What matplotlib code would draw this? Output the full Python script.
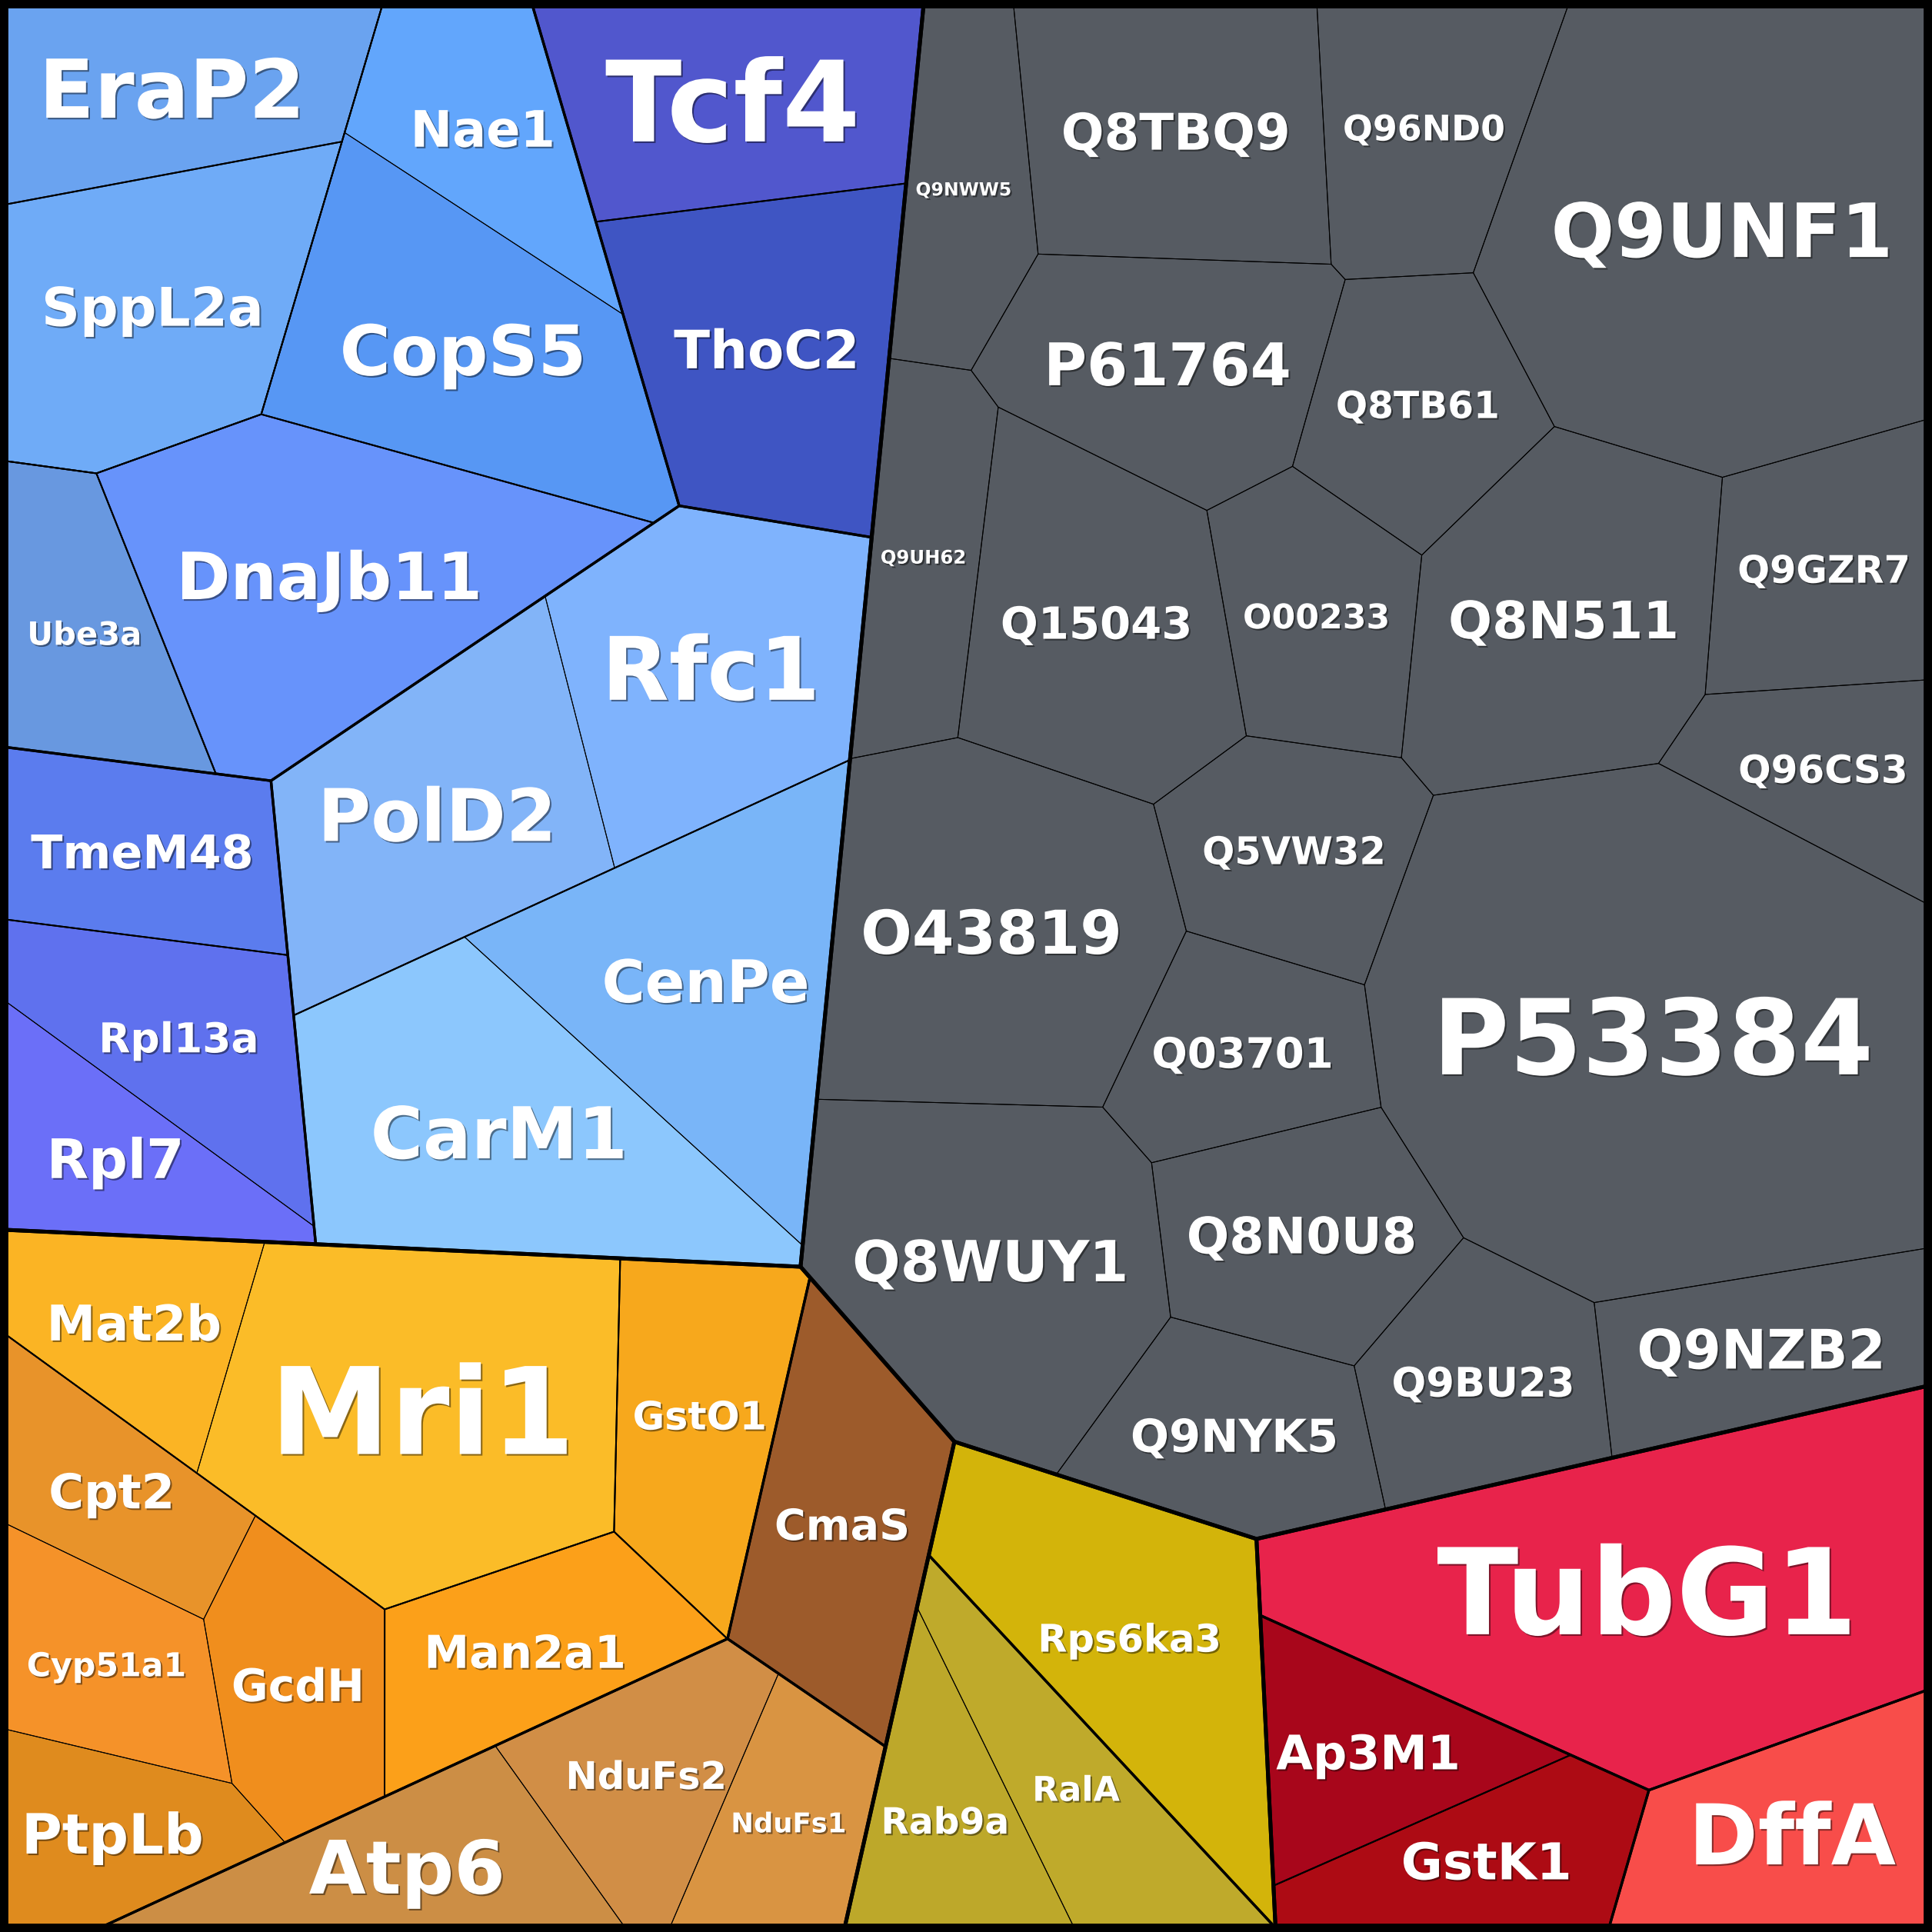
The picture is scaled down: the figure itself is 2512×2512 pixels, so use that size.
import numpy as np
import matplotlib
matplotlib.use("Agg")
from matplotlib import pyplot as plt
from matplotlib.patches import Polygon
import matplotlib.patheffects as pe

# proteins, their group lineage and their value (cell area)
proteins = ["EraP2", "SppL2a", "Nae1", "CopS5", "Ube3a", "DnaJb11", "Tcf4", "ThoC2",
            "Rfc1", "PolD2", "CenPe", "CarM1", "TmeM48", "Rpl13a", "Rpl7",
            "Q9NWW5", "Q8TBQ9", "Q96ND0", "Q9UNF1", "P61764", "Q8TB61", "Q9UH62",
            "Q15043", "O00233", "Q8N511", "Q9GZR7", "Q96CS3", "Q5VW32", "O43819",
            "P53384", "Q03701", "Q8WUY1", "Q8N0U8", "Q9NYK5", "Q9BU23", "Q9NZB2",
            "Mat2b", "Mri1", "GstO1", "Man2a1", "Cpt2", "Cyp51a1", "GcdH", "PtpLb",
            "Atp6", "NduFs2", "NduFs1", "CmaS",
            "Rps6ka3", "RalA", "Rab9a",
            "TubG1", "Ap3M1", "GstK1", "DffA"]

lineage = (["Blue/A1/ES", "Blue/A1/ES", "Blue/A1/NC", "Blue/A1/NC", "Blue/A1/Ube3a",
            "Blue/A1/DnaJb11", "Blue/A2/Tcf4", "Blue/A2/ThoC2", "Blue/B/RP", "Blue/B/RP",
            "Blue/B/CC", "Blue/B/CC", "Blue/C/TmeM48", "Blue/C/RR", "Blue/C/RR"]
           + ["Gray/G/G"] * 21
           + ["Orange/O1/M", "Orange/O1/M", "Orange/O1/GstO1", "Orange/O1/Man2a1",
              "Orange/O1/Or", "Orange/O1/Or", "Orange/O1/Or", "Orange/O1/Or",
              "Orange/Brown/Brown", "Orange/Brown/Brown", "Orange/Brown/Brown", "Orange/CmaS/CmaS",
              "Yellow/Rps6ka3/Rps6ka3", "Yellow/RR2/RR2", "Yellow/RR2/RR2",
              "Red/TubG1/TubG1", "Red/AG/Ap3M1", "Red/AG/GstK1", "Red/DffA/DffA"])

values = [391, 526, 292, 585, 284, 722, 459, 528, 541, 546, 588, 661, 311, 332, 251,
          269, 498, 349, 1191, 441, 314, 273, 519, 302, 592, 333, 246, 318, 722,
          1604, 281, 676, 362, 312, 317, 316,
          266, 801, 341, 321, 240, 252, 280, 244, 312, 282, 219, 399,
          541, 285, 241,
          1125, 270, 270, 360]

# styling
colors = ["#6aa3f0", "#6fabf7", "#62a6fc", "#5797f4", "#6898e0", "#6793fb", "#5157cd", "#3f55c3",
          "#7fb3fd", "#82b4f8", "#79b5f8", "#8cc7fd", "#5b7cee", "#5f71ee", "#6b6ff8"] \
         + ["#565b62"] * 21 \
         + ["#fbb424", "#fbbc28", "#f7a81c", "#fca019", "#e8932a", "#f59229", "#f08e1d", "#df8b1e",
            "#cc8e45", "#d18e46", "#d99442", "#9d5b2b",
            "#d3b40a", "#bfaa2b", "#bda82a",
            "#e8234b", "#a8061b", "#ad0b14", "#f84d4a"]

label_pt = [76, 50, 47, 65, 30, 61, 105, 49.5, 82, 68, 55, 67, 43.5, 38.5, 51,
            17, 47.3, 33, 70, 55, 35, 17.5, 41.5, 31.8, 48.3, 35.5, 36, 35.7, 56.5, 98, 39.3,
            53, 47, 42.5, 38, 51,
            46, 113, 36.5, 42.5, 45, 30.7, 42, 52, 69, 35.6, 25.5, 40,
            35.7, 32, 34,
            112, 44.5, 47.5, 78.5]

# voronoi treemap seeds (site of each node inside its parent)
seeds = {
    "Blue": (374.2, 510.2), "Gray": (1132.0, 584.1), "Orange": (338.4, 1281.9),
    "Yellow": (868.8, 1401.7), "Red": (1313.5, 1379.9),
    "A1": (206.4, 313.1), "A2": (589.7, 200.7), "B": (499.9, 748.8), "C": (146.9, 782.9),
    "ES": (137.4, 126.6), "NC": (357.0, 191.6), "Ube3a": (76.1, 578.6), "DnaJb11": (271.5, 500.9),
    "EraP2": (116.3, 76.4), "SppL2a": (147.7, 244.6),
    "Nae1": (427.0, 127.3), "CopS5": (340.0, 260.5),
    "Tcf4": (596.1, 81.4), "ThoC2": (621.1, 283.5),
    "RP": (424.0, 620.4), "CC": (525.6, 841.6),
    "Rfc1": (584.9, 570.7), "PolD2": (347.3, 631.5),
    "CenPe": (557.7, 781.7), "CarM1": (420.1, 932.5),
    "TmeM48": (131.0, 692.8), "RR": (107.1, 881.9),
    "Rpl13a": (151.4, 846.5), "Rpl7": (87.0, 934.8),
    "Q9NWW5": (783.2, 156.0), "Q8TBQ9": (996.9, 134.9), "Q96ND0": (1155.0, 126.2),
    "Q9UNF1": (1386.7, 208.4), "P61764": (992.0, 276.3), "Q8TB61": (1165.4, 325.2),
    "Q9UH62": (738.2, 463.5), "Q15043": (890.1, 482.1), "O00233": (1080.6, 448.7),
    "Q8N511": (1307.2, 471.5), "Q9GZR7": (1464.8, 484.0), "Q96CS3": (1471.3, 582.6),
    "Q5VW32": (1046.0, 693.8), "O43819": (796.0, 758.5), "P53384": (1354.5, 805.9),
    "Q03701": (997.6, 854.3), "Q8WUY1": (788.3, 1038.4), "Q8N0U8": (1034.7, 1008.0),
    "Q9NYK5": (988.1, 1183.6), "Q9BU23": (1188.9, 1139.7), "Q9NZB2": (1405.0, 1114.8),
    "O1": (328.4, 1189.2), "Brown": (473.7, 1504.7), "CmaS": (640.5, 1260.4),
    "M": (303.1, 1128.0), "GstO1": (587.1, 1134.4), "Man2a1": (379.6, 1353.9), "Or": (139.3, 1353.8),
    "Mat2b": (108.5, 1074.3), "Mri1": (343.1, 1143.2),
    "Cpt2": (127.7, 1256.0), "Cyp51a1": (84.5, 1345.3), "GcdH": (249.3, 1316.8), "PtpLb": (48.2, 1497.0),
    "Atp6": (354.5, 1534.8), "NduFs2": (508.9, 1424.5), "NduFs1": (628.6, 1475.7),
    "Rps6ka3": (929.2, 1342.1), "RR2": (812.9, 1450.3),
    "RalA": (868.7, 1441.1), "Rab9a": (772.8, 1488.1),
    "TubG1": (1316.8, 1258.6), "AG": (1223.4, 1466.3), "DffA": (1411.1, 1520.8),
    "Ap3M1": (1135.3, 1411.8), "GstK1": (1183.3, 1520.9),
}

SIZE = 1568
BOX = [(4, 4), (1564, 4), (1564, 1564), (4, 1564)]
LINE_W = {1: 3.6, 2: 2.4, 3: 1.45, 4: 0.75}


def poly_area(pts):
    p = np.asarray(pts, float)
    x, y = p[:, 0], p[:, 1]
    return abs(np.dot(x, np.roll(y, -1)) - np.dot(np.roll(x, -1), y)) / 2


def poly_centroid(pts):
    p = np.asarray(pts, float)
    x, y = p[:, 0], p[:, 1]
    x2, y2 = np.roll(x, -1), np.roll(y, -1)
    cr = x * y2 - x2 * y
    a = cr.sum() / 2
    return ((x + x2) * cr).sum() / (6 * a), ((y + y2) * cr).sum() / (6 * a)


def clip(poly, a, b, lab):
    """Keep the part of poly where a.x <= b; vertices carry the label of their outgoing edge."""
    out = []
    n = len(poly)
    for k in range(n):
        P, lP = poly[k]
        Q = poly[(k + 1) % n][0]
        fP, fQ = a @ P - b, a @ Q - b
        if fP <= 0:
            out.append((P, lP))
        if (fP <= 0) != (fQ <= 0):
            t = fP / (fP - fQ)
            out.append((P + t * (Q - P), lab if fP <= 0 else lP))
    return out


def power_cells(region, S, W):
    cells = []
    for i in range(len(S)):
        poly = [(np.asarray(v, float), -1) for v in region]
        for j in range(len(S)):
            if j == i:
                continue
            a = 2 * (S[j] - S[i])
            b = S[j] @ S[j] - S[i] @ S[i] - W[j] + W[i]
            poly = clip(poly, a, b, j)
            if len(poly) < 3:
                poly = []
                break
        cells.append(poly)
    return cells


def cell_area(c):
    return poly_area([p for p, _ in c]) if len(c) >= 3 else 0.0


def weighted_voronoi(region, S, target):
    """Power diagram of sites S inside region whose cell areas match target."""
    m = len(S)
    W = np.zeros(m)
    target = np.asarray(target, float)
    target = target / target.sum() * poly_area(region)
    for _ in range(80):
        cells = power_cells(region, S, W)
        A = np.array([cell_area(c) for c in cells])
        err = target - A
        if np.abs(err).max() < 1e-5 * target.sum():
            break
        if (A <= 1e-9).any():
            for i in np.where(A <= 1e-9)[0]:
                W[i] = 1.0 - min((S[i] - S[j]) @ (S[i] - S[j]) - W[j] for j in range(m) if j != i)
            continue
        J = np.zeros((m, m))
        for i, c in enumerate(cells):
            for k in range(len(c)):
                P, lab = c[k]
                if lab < 0:
                    continue
                L = np.hypot(*(c[(k + 1) % len(c)][0] - P))
                d = np.hypot(*(S[i] - S[lab]))
                J[i, i] += L / (2 * d)
                J[i, lab] -= L / (2 * d)
        dW = np.linalg.lstsq(J, err, rcond=None)[0]
        step = 1.0
        while step > 1e-4:
            Wn = W + step * dW
            An = np.array([cell_area(c) for c in power_cells(region, S, Wn)])
            if (An > 0).all() and np.abs(target - An).sum() < np.abs(err).sum():
                break
            step /= 2
        W = Wn
    return [[p for p, _ in c] for c in power_cells(region, S, W)]


# hierarchy
paths = [tuple(g.split("/")) + (p,) for g, p in zip(lineage, proteins)]
children = {}
node_value = {}
for path, v in zip(paths, values):
    for k in range(len(path)):
        kids = children.setdefault(path[:k], [])
        if path[:k + 1] not in kids:
            kids.append(path[:k + 1])
        node_value[path[:k + 1]] = node_value.get(path[:k + 1], 0) + v

cells = {}


def layout(node, region):
    kids = children.get(node, [])
    if not kids:
        return
    if len(kids) == 1:
        parts = [region]
    else:
        S = np.array([seeds[k[-1]] for k in kids], float)
        parts = weighted_voronoi(region, S, [node_value[k] for k in kids])
    for k, part in zip(kids, parts):
        cells[k] = part
        layout(k, part)


layout((), BOX)

fig = plt.figure(figsize=(25.12, 25.12), dpi=100)
fig.patch.set_facecolor("black")
ax = fig.add_axes([0, 0, 1, 1])
ax.set_xlim(0, SIZE)
ax.set_ylim(SIZE, 0)
ax.axis("off")

for path, col in zip(paths, colors):
    ax.add_patch(Polygon(np.array(cells[path]), closed=True, fc=col, ec=col, lw=0.3, zorder=1))

for depth in (4, 3, 2, 1):
    for node, pts in cells.items():
        if len(node) != depth:
            continue
        lw = LINE_W[depth]
        if depth == 4 and node[2] == "ES":
            lw = LINE_W[3]
        ax.add_patch(Polygon(np.array(pts), closed=True, fc="none", ec="black",
                             lw=lw, joinstyle="miter", zorder=2 + (4 - depth)))

# outer frame
ax.add_patch(Polygon(np.array(BOX, float), closed=True, fc="none", ec="black", lw=7, zorder=7))

shadow = [pe.SimplePatchShadow(offset=(1.5, -1.5), shadow_rgbFace="black", alpha=0.45), pe.Normal()]
for path, name, pt in zip(paths, proteins, label_pt):
    cx, cy = poly_centroid(cells[path])
    ax.text(cx, cy + 0.316 * pt, name, ha="center", va="baseline", fontsize=pt,
            fontweight="bold", color="white", family="DejaVu Sans", path_effects=shadow, zorder=10)

fig.savefig("out.png", dpi=100, facecolor="black")
